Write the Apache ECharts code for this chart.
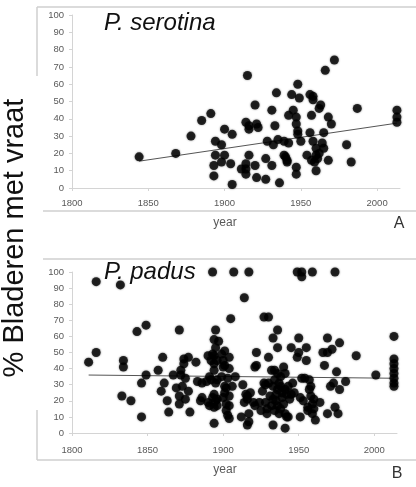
<!DOCTYPE html>
<html>
<head>
<meta charset="utf-8">
<script src="https://cdn.jsdelivr.net/npm/echarts@6/dist/echarts.min.js"></script>
<style>
  html, body { margin: 0; padding: 0; background: #fff; }
  #chart { width: 416px; height: 487px; }
</style>
</head>
<body>
<div id="chart"></div>
<script>
'use strict';

const yearTicks = [1800, 1850, 1900, 1950, 2000];

// P. serotina: [year, % leaves with feeding damage]
const serotina = [
  [1844, 18], [1868, 20], [1878, 30], [1885, 39], [1891, 43], [1893, 7], [1893, 13], [1894, 27],
  [1894, 19], [1898, 25], [1898, 15], [1900, 34], [1900, 19], [1904, 14], [1905, 31], [1905, 2],
  [1911, 11], [1914, 14], [1914, 11], [1914, 8], [1914, 38], [1915, 65], [1916, 36], [1916, 34],
  [1916, 19], [1920, 48], [1920, 13], [1921, 6], [1921, 37], [1922, 35], [1927, 17], [1927, 5],
  [1928, 27], [1931, 45], [1931, 13], [1932, 25], [1933, 36], [1934, 55], [1935, 28], [1936, 3],
  [1939, 19], [1939, 27], [1940, 18], [1941, 15], [1941, 16], [1942, 42], [1942, 26], [1944, 54],
  [1945, 45], [1947, 41], [1947, 37], [1947, 12], [1947, 8], [1948, 60], [1948, 33], [1948, 31],
  [1949, 52], [1950, 27], [1954, 19], [1956, 54], [1956, 32], [1957, 16], [1957, 42], [1958, 53],
  [1958, 51], [1958, 27], [1959, 15], [1960, 10], [1960, 19], [1960, 23], [1961, 17], [1962, 46],
  [1962, 20], [1963, 48], [1964, 26], [1965, 23], [1965, 32], [1966, 68], [1968, 41], [1968, 16],
  [1970, 37], [1972, 74], [1980, 25], [1983, 15], [1987, 46], [2013, 45], [2013, 41], [2013, 38]
];
const serotinaTrend = [[1844, 15.5], [2013, 37.5]];

// P. padus
const padus = [
  [1811, 44], [1816, 50], [1816, 94], [1832, 92], [1834, 45], [1834, 41], [1833, 23], [1839, 20],
  [1843, 63], [1846, 31], [1846, 10], [1849, 67], [1849, 36],
  [1857, 39], [1860, 47], [1859, 26], [1861, 31], [1863, 20], [1864, 13], [1867, 36], [1871, 64],
  [1869, 28], [1871, 23], [1871, 18], [1872, 39], [1872, 36], [1873, 29], [1874, 46], [1874, 43],
  [1875, 34], [1875, 21], [1877, 47], [1877, 26], [1878, 13], [1882, 44], [1883, 32], [1885, 20],
  [1886, 22], [1886, 31], [1889, 32], [1890, 48], [1891, 35], [1890, 19], [1891, 17],
  [1893, 100], [1894, 58], [1895, 64], [1895, 53], [1893, 49], [1894, 48], [1892, 45], [1894, 43],
  [1894, 39], [1895, 31], [1894, 24], [1894, 16], [1894, 6], [1897, 57], [1896, 45], [1896, 33],
  [1896, 21], [1896, 17], [1892, 33], [1893, 22], [1895, 20],
  [1899, 35], [1899, 49], [1901, 51], [1900, 45], [1901, 42], [1900, 41], [1901, 29], [1901, 25],
  [1902, 18], [1902, 14], [1903, 11], [1904, 47], [1904, 40], [1904, 23], [1904, 17], [1904, 9],
  [1905, 71], [1906, 29], [1907, 100], [1908, 35], [1902, 28], [1900, 22], [1903, 34],
  [1913, 30], [1912, 10], [1914, 84], [1914, 19], [1916, 23], [1916, 5], [1917, 100], [1917, 12],
  [1917, 7], [1918, 25], [1920, 19], [1916, 21], [1915, 24],
  [1922, 50], [1921, 41], [1922, 42], [1921, 17], [1924, 19], [1925, 14], [1926, 26], [1927, 72],
  [1927, 31], [1928, 19], [1929, 12], [1930, 72], [1930, 47], [1930, 31], [1931, 23], [1932, 17],
  [1929, 15], [1928, 30],
  [1933, 59], [1932, 39], [1933, 29], [1933, 21], [1933, 5], [1934, 14], [1934, 39], [1935, 24],
  [1936, 64], [1936, 53], [1936, 37], [1936, 27], [1936, 17], [1937, 12], [1938, 35], [1938, 29],
  [1939, 22], [1940, 18], [1940, 41], [1941, 37], [1941, 27], [1941, 12], [1941, 3], [1942, 10],
  [1943, 29], [1944, 21], [1945, 53], [1946, 31], [1945, 24], [1934, 33], [1935, 20], [1937, 31],
  [1939, 25], [1942, 24], [1943, 10], [1938, 15],
  [1947, 25], [1949, 47], [1950, 59], [1949, 100], [1951, 22], [1951, 10], [1952, 100], [1952, 97],
  [1952, 34], [1954, 34], [1955, 53], [1955, 45], [1956, 16], [1956, 14], [1957, 33], [1959, 100],
  [1958, 29], [1958, 23], [1959, 18], [1959, 12], [1960, 21], [1961, 8], [1964, 19], [1950, 50],
  [1953, 20], [1957, 27], [1960, 15],
  [1966, 50], [1967, 42], [1969, 50], [1969, 59], [1969, 12], [1971, 29], [1972, 52], [1973, 31],
  [1974, 100], [1974, 16], [1975, 38], [1976, 12], [1977, 27], [1977, 56], [1981, 32], [1988, 48],
  [2001, 36],
  [2013, 60], [2013, 46], [2013, 43], [2013, 40], [2013, 37], [2013, 34], [2013, 31], [2013, 29]
];
const padusTrend = [[1811, 36], [2013, 34]];

const FONT = '"Liberation Sans", Arial, sans-serif';
const axisGrey = '#d4d4d4';
const labelGrey = '#595959';

function xAxisFor(gridIndex, margin) {
  return {
    type: 'value', gridIndex, min: 1800, max: 2015,
    axisLine: { show: true, lineStyle: { color: axisGrey, width: 1 } },
    axisTick: { show: true, length: 3, lineStyle: { color: axisGrey }, customValues: yearTicks },
    axisLabel: {
      color: labelGrey, fontSize: 9.5, fontFamily: FONT, margin,
      customValues: yearTicks, formatter: (v) => String(v)
    },
    splitLine: { show: false }
  };
}

function yAxisFor(gridIndex) {
  return {
    type: 'value', gridIndex, min: 0, max: 100, interval: 10,
    axisLine: { show: true, lineStyle: { color: axisGrey, width: 1 } },
    axisTick: { show: true, length: 3, lineStyle: { color: axisGrey } },
    axisLabel: { color: labelGrey, fontSize: 9.5, fontFamily: FONT, margin: 8 },
    splitLine: { show: false }
  };
}

const dotStyle = {
  color: '#000',
  shadowBlur: 2,
  shadowColor: 'rgba(0,0,0,0.6)'
};

function frameLine(x1, y1, x2, y2) {
  return {
    type: 'line', silent: true,
    shape: { x1, y1, x2, y2 },
    style: { stroke: '#cfcfcf', lineWidth: 1.5 }
  };
}

function txt(text, x, y, size, opts) {
  return {
    type: 'text', x, y, silent: true,
    style: Object.assign({
      text, fill: '#111', font: size + 'px ' + FONT,
      textAlign: 'center', textVerticalAlign: 'middle'
    }, opts || {})
  };
}

const chart = echarts.init(document.getElementById('chart'), null, { renderer: 'canvas' });

chart.setOption({
  animation: false,
  backgroundColor: '#fff',
  grid: [
    { left: 72, width: 328, top: 15, height: 173 },
    { left: 72, width: 325, top: 272, height: 161 }
  ],
  xAxis: [xAxisFor(0, 10), xAxisFor(1, 12)],
  yAxis: [yAxisFor(0), yAxisFor(1)],
  series: [
    {
      type: 'scatter', xAxisIndex: 0, yAxisIndex: 0, data: serotina,
      symbolSize: 9, itemStyle: dotStyle
    },
    {
      type: 'line', xAxisIndex: 0, yAxisIndex: 0, data: serotinaTrend,
      symbol: 'none', lineStyle: { color: '#555', width: 1 }, z: 1
    },
    {
      type: 'scatter', xAxisIndex: 1, yAxisIndex: 1, data: padus,
      symbolSize: 9, itemStyle: dotStyle
    },
    {
      type: 'line', xAxisIndex: 1, yAxisIndex: 1, data: padusTrend,
      symbol: 'none', lineStyle: { color: '#555', width: 1 }, z: 1
    }
  ],
  graphic: [
    // panel frames
    frameLine(37, 7, 416, 7),
    frameLine(37, 7, 37, 76),
    frameLine(43, 211, 416, 211),
    frameLine(43, 259, 416, 259),
    frameLine(37, 410, 37, 460),
    frameLine(37, 460, 416, 460),
    // titles
    txt('P. serotina', 104, 23, 24, { textAlign: 'left', font: 'italic 24px ' + FONT }),
    txt('P. padus', 104, 272, 24, { textAlign: 'left', font: 'italic 24px ' + FONT }),
    // axis titles
    txt('year', 225, 223, 12, { fill: labelGrey }),
    txt('year', 225, 470, 12, { fill: labelGrey }),
    txt('A', 399, 224, 16, { fill: '#333' }),
    txt('B', 397, 474, 16, { fill: '#333' }),
    {
      type: 'text', x: 15, y: 238, rotation: Math.PI / 2, silent: true,
      style: {
        text: '% Bladeren met vraat', fill: '#111', font: '29px ' + FONT,
        textAlign: 'center', textVerticalAlign: 'middle'
      }
    }
  ]
});
</script>
</body>
</html>
